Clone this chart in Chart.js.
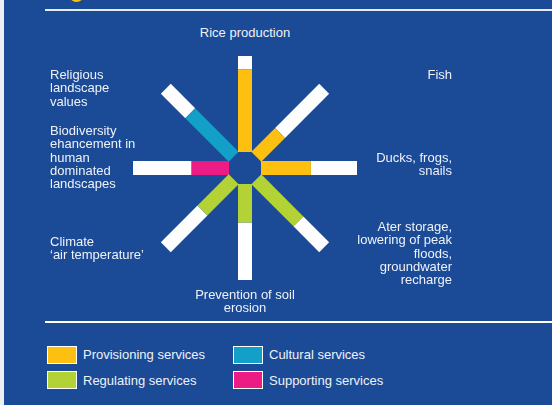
<html>
<head>
<meta charset="UTF-8"/>
<style>
html, body {
 width: 552px;
 height: 405px;
 margin: 0px;
 border: 0;
 overflow: hidden;
 background-color: #1b4a97;
 font-family: "Liberation Sans", Arial, sans-serif;
 font-size: 13px;
 color: #eef2f8;
}
#edge { position: absolute; left: 0; top: 0; width: 4px; height: 405px; background: #eceff3; }
#dot { position: absolute; left: 69px; top: -13px; width: 15px; height: 15px; border-radius: 50%; background: #fdc010; }
.rule { position: absolute; left: 45px; width: 507px; background: #e4ecf7; }
.lbl { position: absolute; line-height: 13.3px; white-space: nowrap; }
.box { position: absolute; width: 28px; height: 16px; border: 1px solid #ffffff; }
.ltxt { position: absolute; line-height: 14px; white-space: nowrap; }
#chartWrap { position: absolute; left: 125px; top: 48px; width: 240px; height: 240px; }
</style>
<script src="https://cdn.jsdelivr.net/npm/chart.js@4.4.1/dist/chart.umd.min.js"></script>
<script type="text/javascript">
// spokes, clockwise from the top
var categories = ['Rice production', 'Fish', 'Ducks, frogs, snails',
    'Water storage, lowering of peak floods, groundwater recharge',
    'Prevention of soil erosion', "Climate 'air temperature'",
    'Biodiversity ehancement in human dominated landscapes',
    'Religious landscape values'];
// coloured share of each spoke, percent
var values = [86, 35, 52, 62, 40, 46, 39, 64];
var serviceOf = ['Provisioning', 'Provisioning', 'Provisioning', 'Regulating',
    'Regulating', 'Regulating', 'Supporting', 'Cultural'];

var services = ['Provisioning', 'Regulating', 'Cultural', 'Supporting'];
var serviceColors = ['#fdc010', '#b2d235', '#12a0c8', '#ec1c84'];

var innerR = 16;
var outerR = 112;

function pt(r, i) {
    var a = i * Math.PI / 4;
    return {x: r * Math.sin(a), y: r * Math.cos(a)};
}

function init() {
    var datasets = [];
    for (var i = 0; i < categories.length; i++) {
        var r = innerR + values[i] / 100 * (outerR - innerR);
        var col = serviceColors[services.indexOf(serviceOf[i])];
        datasets.push({
            label: categories[i],
            data: [pt(innerR, i), pt(r, i)],
            borderColor: col,
            borderWidth: 14,
            borderCapStyle: 'butt',
            pointRadius: 0,
            showLine: true,
            clip: false
        });
        datasets.push({
            label: categories[i] + ' rest',
            data: [pt(r, i), pt(outerR, i)],
            borderColor: '#ffffff',
            borderWidth: 14,
            borderCapStyle: 'butt',
            pointRadius: 0,
            showLine: true,
            clip: false
        });
    }

    var ctx = document.getElementById('myChart').getContext('2d');
    new Chart(ctx, {
        type: 'scatter',
        data: { datasets: datasets },
        options: {
            responsive: false,
            animation: false,
            layout: { padding: 0 },
            plugins: { legend: { display: false }, tooltip: { enabled: false } },
            scales: {
                x: { display: false, min: -120, max: 120 },
                y: { display: false, min: -120, max: 120 }
            }
        }
    });
}
</script>
<title>Chart</title>
</head>

<body onload="JavaScript:init();">
<div id="edge"></div>
<div id="dot"></div>
<div class="rule" style="top:9px;height:2px;"></div>
<div class="rule" style="top:321px;height:2px;background:#ffffff;"></div>

<div id="chartWrap"><canvas id="myChart" width="240" height="240"></canvas></div>

<div class="lbl" style="left:145px;width:200px;top:26px;text-align:center;">Rice production</div>
<div class="lbl" style="left:252px;width:200px;top:68px;text-align:right;">Fish</div>
<div class="lbl" style="left:252px;width:200px;top:151px;text-align:right;">Ducks, frogs,<br/>snails</div>
<div class="lbl" style="left:252px;width:200px;top:220px;text-align:right;">Ater storage,<br/>lowering of peak<br/>floods,<br/>groundwater<br/>recharge</div>
<div class="lbl" style="left:145px;width:200px;top:288px;text-align:center;">Prevention of soil<br/>erosion</div>
<div class="lbl" style="left:50px;top:235px;">Climate<br/>&#8216;air temperature&#8217;</div>
<div class="lbl" style="left:50px;top:124px;">Biodiversity<br/>ehancement in<br/>human<br/>dominated<br/>landscapes</div>
<div class="lbl" style="left:50px;top:68px;">Religious<br/>landscape<br/>values</div>

<div class="box" style="left:47px;top:346px;background:#fdc010;"></div>
<div class="ltxt" style="left:83px;top:348px;">Provisioning services</div>
<div class="box" style="left:47px;top:371px;background:#b2d235;"></div>
<div class="ltxt" style="left:83px;top:374px;">Regulating services</div>
<div class="box" style="left:233px;top:346px;background:#12a0c8;"></div>
<div class="ltxt" style="left:269px;top:348px;">Cultural services</div>
<div class="box" style="left:233px;top:371px;background:#ec1c84;"></div>
<div class="ltxt" style="left:269px;top:374px;">Supporting services</div>
</body>
</html>
